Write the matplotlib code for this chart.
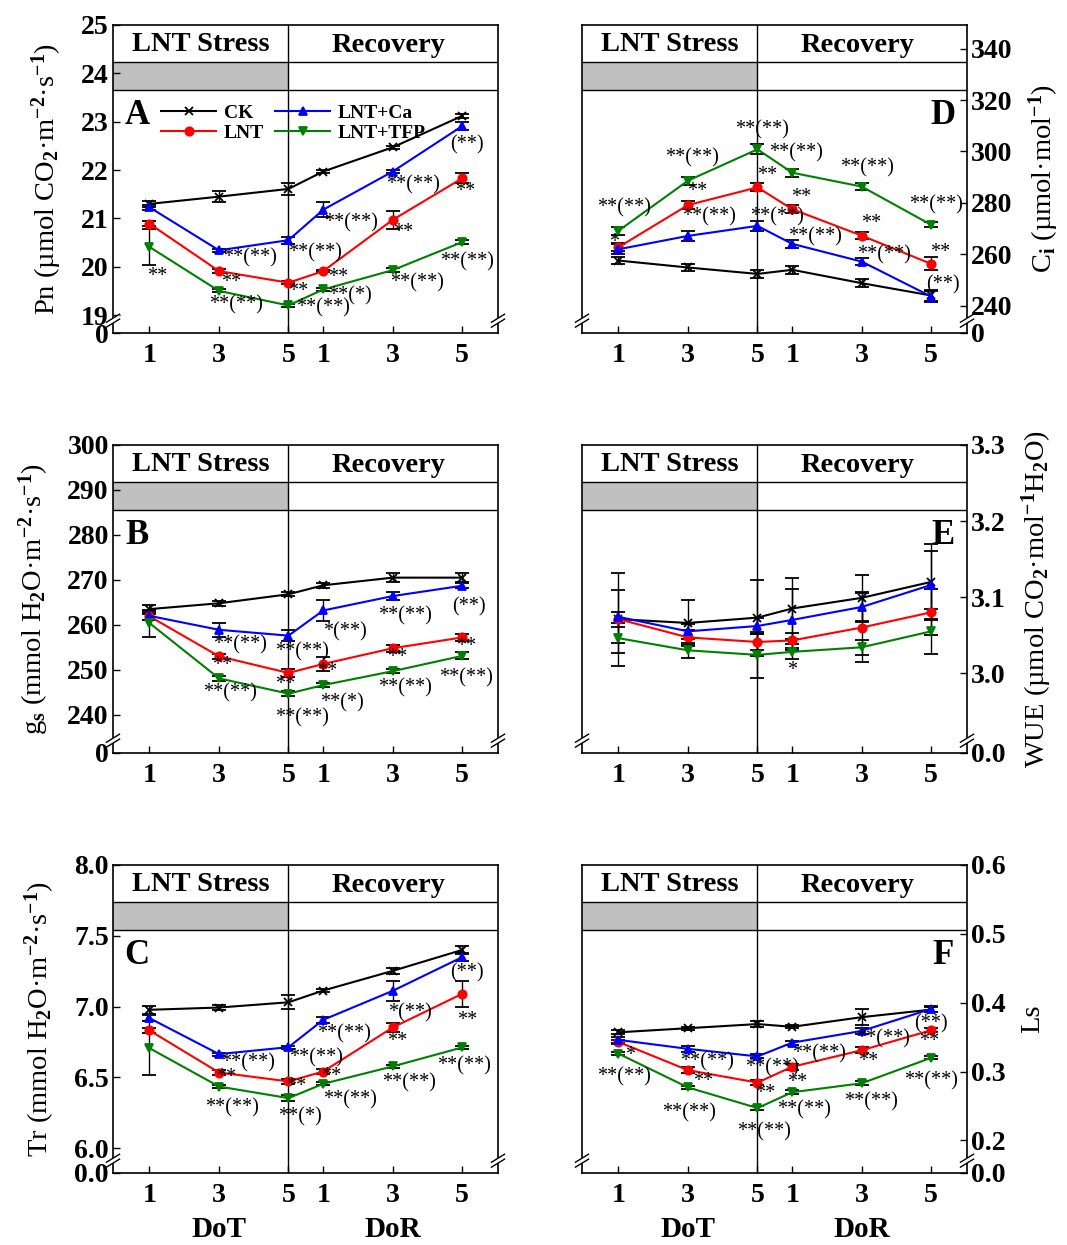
import numpy as np
import matplotlib
matplotlib.use('Agg')
import matplotlib.pyplot as plt
from matplotlib.patches import Rectangle, Polygon
from matplotlib.lines import Line2D

plt.rcParams['font.family'] = ['Liberation Serif', 'DejaVu Serif']
plt.rcParams['font.weight'] = 'bold'
plt.rcParams['mathtext.fontset'] = 'custom'
plt.rcParams['mathtext.rm'] = 'Liberation Serif:bold'
plt.rcParams['mathtext.it'] = 'Liberation Serif:bold:italic'
plt.rcParams['mathtext.bf'] = 'Liberation Serif:bold'
plt.rcParams['mathtext.default'] = 'rm'

# Treatments and sampling days (days of treatment, days of recovery)
treatments = ['CK', 'LNT', 'LNT+Ca', 'LNT+TFP']
day_labels = ['1', '3', '5', '1', '3', '5']
x = np.array([0, 2, 4, 5, 7, 9])

# A: Pn
pn_ck = [21.30, 21.45, 21.61, 21.97, 22.47, 23.12]
pn_lnt = [20.89, 19.91, 19.67, 19.91, 20.97, 21.83]
pn_ca = [21.23, 20.34, 20.55, 21.18, 21.97, 22.91]
pn_tfp = [20.41, 19.50, 19.20, 19.53, 19.93, 20.51]
pn_ck_se = [0.06, 0.12, 0.13, 0.04, 0.03, 0.04]
pn_lnt_se = [0.05, 0.04, 0.03, 0.02, 0.18, 0.10]
pn_ca_se = [0.05, 0.03, 0.07, 0.15, 0.04, 0.08]
pn_tfp_se = [0.38, 0.03, 0.03, 0.03, 0.04, 0.04]

# B: gs
gs_ck = [263.5, 264.8, 266.8, 268.8, 270.5, 270.5]
gs_lnt = [261.9, 253.0, 249.3, 251.3, 254.8, 257.2]
gs_ca = [262.0, 258.9, 257.6, 263.2, 266.4, 268.7]
gs_tfp = [260.4, 248.1, 244.7, 246.6, 249.7, 253.1]
gs_ck_se = [1.0, 0.6, 0.4, 0.5, 1.0, 1.0]
gs_lnt_se = [0.8, 0.6, 0.8, 1.5, 0.8, 0.8]
gs_ca_se = [1.0, 1.5, 1.2, 2.3, 0.8, 0.5]
gs_tfp_se = [3.0, 0.6, 0.5, 0.5, 0.4, 0.8]

# C: Tr
tr_ck = [6.977, 6.993, 7.030, 7.113, 7.252, 7.400]
tr_lnt = [6.831, 6.534, 6.471, 6.541, 6.852, 7.090]
tr_ca = [6.918, 6.664, 6.713, 6.906, 7.111, 7.349]
tr_tfp = [6.706, 6.435, 6.353, 6.454, 6.577, 6.711]
tr_ck_se = [0.03, 0.02, 0.05, 0.01, 0.02, 0.03]
tr_lnt_se = [0.02, 0.02, 0.02, 0.02, 0.03, 0.09]
tr_ca_se = [0.02, 0.01, 0.01, 0.02, 0.07, 0.03]
tr_tfp_se = [0.19, 0.01, 0.02, 0.01, 0.01, 0.01]

# D: Ci
ci_ck = [257.5, 254.8, 252.3, 253.9, 248.7, 243.9]
ci_lnt = [262.7, 279.1, 286.0, 277.5, 267.2, 256.2]
ci_ca = [261.9, 267.1, 271.0, 264.0, 257.1, 243.5]
ci_tfp = [269.1, 288.6, 300.8, 291.7, 286.3, 271.4]
ci_ck_se = [1.5, 1.5, 1.5, 1.5, 1.5, 2.0]
ci_lnt_se = [1.5, 1.5, 1.5, 1.5, 1.5, 2.5]
ci_ca_se = [2.0, 2.0, 2.0, 1.5, 1.5, 2.0]
ci_tfp_se = [1.5, 1.5, 2.0, 1.5, 1.5, 1.0]

# E: WUE
wue_ck = [3.071, 3.066, 3.073, 3.085, 3.099, 3.120]
wue_lnt = [3.071, 3.047, 3.041, 3.043, 3.060, 3.080]
wue_ca = [3.074, 3.055, 3.062, 3.070, 3.087, 3.116]
wue_tfp = [3.046, 3.030, 3.024, 3.028, 3.034, 3.055]
wue_ck_se = [0.061, 0.030, 0.050, 0.040, 0.030, 0.050]
wue_lnt_se = [0.010, 0.010, 0.010, 0.010, 0.045, 0.030]
wue_ca_se = [0.035, 0.010, 0.010, 0.040, 0.020, 0.045]
wue_tfp_se = [0.020, 0.010, 0.030, 0.010, 0.010, 0.030]

# F: Ls
ls_ck = [0.357, 0.363, 0.369, 0.365, 0.379, 0.390]
ls_lnt = [0.343, 0.302, 0.284, 0.307, 0.331, 0.360]
ls_ca = [0.346, 0.333, 0.322, 0.342, 0.359, 0.391]
ls_tfp = [0.326, 0.277, 0.247, 0.270, 0.283, 0.320]
ls_ck_se = [0.003, 0.002, 0.004, 0.002, 0.012, 0.004]
ls_lnt_se = [0.003, 0.004, 0.004, 0.004, 0.004, 0.003]
ls_ca_se = [0.004, 0.004, 0.003, 0.003, 0.005, 0.004]
ls_tfp_se = [0.002, 0.002, 0.003, 0.003, 0.003, 0.002]

# significance marks (x position, y position, text)
pn_notes = [(0.23, 19.80, '**'), (2.88, 20.19, '**(**)'), (2.36, 19.67, '**'),
            (2.50, 19.22, '**(**)'), (4.75, 20.29, '**(**)'), (4.29, 19.49, '**'),
            (4.98, 19.16, '**(**)'), (5.79, 20.91, '**(**)'), (5.44, 19.78, '**'),
            (5.76, 19.39, '**(*)'), (7.57, 21.69, '**(**)'), (7.31, 20.71, '**'),
            (7.71, 19.67, '**(**)'), (9.15, 22.52, '(**)'), (9.07, 21.55, '**'),
            (9.15, 20.11, '**(**)')]
gs_notes = [(2.59, 255.6, '**(**)'), (2.10, 250.9, '**'), (2.33, 244.9, '**(**)'),
            (4.38, 254.0, '**(**)'), (3.89, 246.7, '**'), (4.40, 239.3, '**(**)'),
            (5.61, 258.4, '*(**)'), (5.12, 249.6, '**'), (5.53, 242.7, '**(*)'),
            (7.34, 262.0, '**(**)'), (7.14, 252.7, '**'), (7.34, 246.0, '**(**)'),
            (9.18, 264.0, '(**)'), (9.12, 255.1, '**'), (9.12, 248.2, '**(**)')]
tr_notes = [(2.82, 6.603, '**(**)'), (2.22, 6.497, '**'), (2.36, 6.285, '**(**)'),
            (4.78, 6.638, '**(**)'), (4.23, 6.433, '**'), (4.32, 6.221, '**(*)'),
            (5.61, 6.807, '**(**)'), (5.24, 6.503, '**'), (5.76, 6.341, '**(**)'),
            (7.48, 6.955, '*(**)'), (7.14, 6.751, '**'), (7.46, 6.461, '**(**)'),
            (9.15, 7.238, '(**)'), (9.15, 6.899, '**'), (9.04, 6.581, '**(**)')]
ci_notes = [(0.15, 278.0, '**(**)'), (-0.14, 264.7, '*'), (2.11, 297.4, '**(**)'),
            (2.25, 284.2, '**'), (2.59, 274.5, '**(**)'), (4.12, 308.3, '**(**)'),
            (4.27, 290.8, '**'), (4.55, 274.5, '**(**)'), (5.12, 299.4, '**(**)'),
            (5.27, 281.9, '**'), (5.64, 266.7, '**(**)'), (7.14, 293.5, '**(**)'),
            (7.28, 272.1, '**'), (7.65, 259.7, '**(**)'), (9.15, 279.1, '**(**)'),
            (9.26, 260.5, '**'), (9.35, 248.0, '(**)')]
wue_notes = [(5.01, 3.003, '*')]
ls_notes = [(0.32, 0.3233, '*'), (0.15, 0.2929, '**(**)'), (2.54, 0.3146, '**(**)'),
            (2.45, 0.2857, '**'), (2.02, 0.2394, '**(**)'), (4.41, 0.3059, '**(**)'),
            (4.21, 0.2683, '**'), (4.18, 0.2119, '**(**)'), (5.76, 0.3262, '**(**)'),
            (5.15, 0.2842, '**'), (5.35, 0.2437, '**(**)'), (7.62, 0.3479, '**(**)'),
            (7.19, 0.3146, '**'), (7.28, 0.2567, '**(**)'), (9.00, 0.3696, '(**)'),
            (8.95, 0.3436, '**'), (9.00, 0.2871, '**(**)')]

colors = ['black', 'red', 'blue', 'green']
markers = ['x', 'o', '^', 'v']
XMIN, XMAX = -1.05, 10.03

fig = plt.figure(figsize=(10.67, 12.45), dpi=100)
W, H = 1067, 1245


def make_ax(left, top):
    return fig.add_axes([left / W, 1 - (top + 308) / H, 385 / W, 308 / H])


def draw_panel(ax, means, errs, ylim, ticks, ticklabels, letter, ylabel, notes,
               right=False, legend=False, bottom=False):
    for m, e, c, mk, lab in zip(means, errs, colors, markers, treatments):
        ax.errorbar(x, m, yerr=e, color=c, marker=mk, ms=6, mew=1.3, lw=1.5,
                    ecolor='black', elinewidth=1, capsize=5, capthick=1,
                    zorder=3)
    ax.set_xlim(XMIN, XMAX)
    ax.set_ylim(*ylim)
    ax.axvline(4, color='black', lw=1, zorder=2)

    # header box
    tr = ax.get_xaxis_transform()
    ax.add_patch(Rectangle((XMIN, 0.789), 4 - XMIN, 0.092, transform=tr,
                           facecolor='#c0c0c0', edgecolor='none', zorder=1))
    for yy in (0.881, 0.789):
        ax.plot([0, 1], [yy, yy], transform=ax.transAxes, color='black', lw=1)
    ax.text((XMIN + 4) / 2, 0.937, 'LNT Stress', transform=tr, ha='center',
            va='center', fontsize=20.5)
    ax.text((4 + XMAX) / 2 - 0.15, 0.933, 'Recovery', transform=tr, ha='center',
            va='center', fontsize=20.5)

    # axis break marks
    for xa in (0, 1):
        yb = 0.04
        ax.add_patch(Polygon([[xa - 0.017, yb - 0.021], [xa + 0.017, yb + 0.005],
                              [xa + 0.017, yb + 0.021], [xa - 0.017, yb - 0.005]],
                             closed=True, transform=ax.transAxes, facecolor='white',
                             edgecolor='none', clip_on=False, zorder=5))
        for dy in (-0.008, 0.008):
            ax.plot([xa - 0.017, xa + 0.017], [yb + dy - 0.013, yb + dy + 0.013],
                    transform=ax.transAxes, color='black', lw=1, clip_on=False,
                    zorder=6)

    for nx, ny, txt in notes:
        ax.text(nx, ny, txt, ha='center', va='center', fontsize=14.5,
                fontweight='normal', zorder=4)

    ax.text(0.9375 if right else 0.062, 0.705, letter, transform=ax.transAxes,
            ha='center', va='center', fontsize=25)

    ax.set_xticks(x)
    ax.set_xticklabels(day_labels)
    ax.set_yticks(ticks)
    ax.set_yticklabels(ticklabels)
    ax.tick_params(direction='in', length=5, width=1, labelsize=20)
    ax.tick_params(axis='x', pad=7)
    ax.tick_params(axis='y', pad=3)
    for s in ax.spines.values():
        s.set_linewidth(1.2)
    if right:
        ax.yaxis.tick_right()
        ax.yaxis.set_label_position('right')
        ax.set_ylabel(ylabel, fontsize=20.5, labelpad=10)
    else:
        ax.set_ylabel(ylabel, fontsize=20.5, labelpad=12)
    if legend:
        handles = [Line2D([], [], color=c, marker=mk, ms=6, mew=1.3, lw=1.5)
                   for c, mk in zip(colors, markers)]
        ax.legend(handles, treatments, loc='upper left',
                  bbox_to_anchor=(0.08, 0.80), ncol=2, frameon=False,
                  fontsize=14, handlelength=2.8, columnspacing=0.6,
                  labelspacing=0.15, handletextpad=0.4)
    if bottom:
        ax.text(2, -0.185, 'DoT', transform=tr, ha='center', va='center', fontsize=21)
        ax.text(7, -0.185, 'DoR', transform=tr, ha='center', va='center', fontsize=21)


axA = make_ax(113, 25)
draw_panel(axA, [pn_ck, pn_lnt, pn_ca, pn_tfp],
           [pn_ck_se, pn_lnt_se, pn_ca_se, pn_tfp_se],
           (18.63, 25), [18.63, 19, 20, 21, 22, 23, 24, 25],
           ['0', '19', '20', '21', '22', '23', '24', '25'], 'A',
           'Pn (µmol CO$_2$·m$^{-2}$·s$^{-1}$)', pn_notes, legend=True)

axB = make_ax(113, 445)
draw_panel(axB, [gs_ck, gs_lnt, gs_ca, gs_tfp],
           [gs_ck_se, gs_lnt_se, gs_ca_se, gs_tfp_se],
           (231.5, 300), [231.5, 240, 250, 260, 270, 280, 290, 300],
           ['0', '240', '250', '260', '270', '280', '290', '300'], 'B',
           'g$_s$ (mmol H$_2$O·m$^{-2}$·s$^{-1}$)', gs_notes)

axC = make_ax(113, 865)
draw_panel(axC, [tr_ck, tr_lnt, tr_ca, tr_tfp],
           [tr_ck_se, tr_lnt_se, tr_ca_se, tr_tfp_se],
           (5.824, 8.0), [5.824, 6.0, 6.5, 7.0, 7.5, 8.0],
           ['0.0', '6.0', '6.5', '7.0', '7.5', '8.0'], 'C',
           'Tr (mmol H$_2$O·m$^{-2}$·s$^{-1}$)', tr_notes, bottom=True)

axD = make_ax(582, 25)
draw_panel(axD, [ci_ck, ci_lnt, ci_ca, ci_tfp],
           [ci_ck_se, ci_lnt_se, ci_ca_se, ci_tfp_se],
           (229.3, 349.2), [229.3, 240, 260, 280, 300, 320, 340],
           ['0', '240', '260', '280', '300', '320', '340'], 'D',
           'C$_i$ (µmol·mol$^{-1}$)', ci_notes, right=True)

axE = make_ax(582, 445)
draw_panel(axE, [wue_ck, wue_lnt, wue_ca, wue_tfp],
           [wue_ck_se, wue_lnt_se, wue_ca_se, wue_tfp_se],
           (2.895, 3.3), [2.895, 3.0, 3.1, 3.2, 3.3],
           ['0.0', '3.0', '3.1', '3.2', '3.3'], 'E',
           'WUE (µmol CO$_2$·mol$^{-1}$H$_2$O)', wue_notes, right=True)

axF = make_ax(582, 865)
draw_panel(axF, [ls_ck, ls_lnt, ls_ca, ls_tfp],
           [ls_ck_se, ls_lnt_se, ls_ca_se, ls_tfp_se],
           (0.1527, 0.6), [0.1527, 0.2, 0.3, 0.4, 0.5, 0.6],
           ['0.0', '0.2', '0.3', '0.4', '0.5', '0.6'], 'F',
           'Ls', ls_notes, right=True, bottom=True)

fig.savefig('out.png', dpi=100)
